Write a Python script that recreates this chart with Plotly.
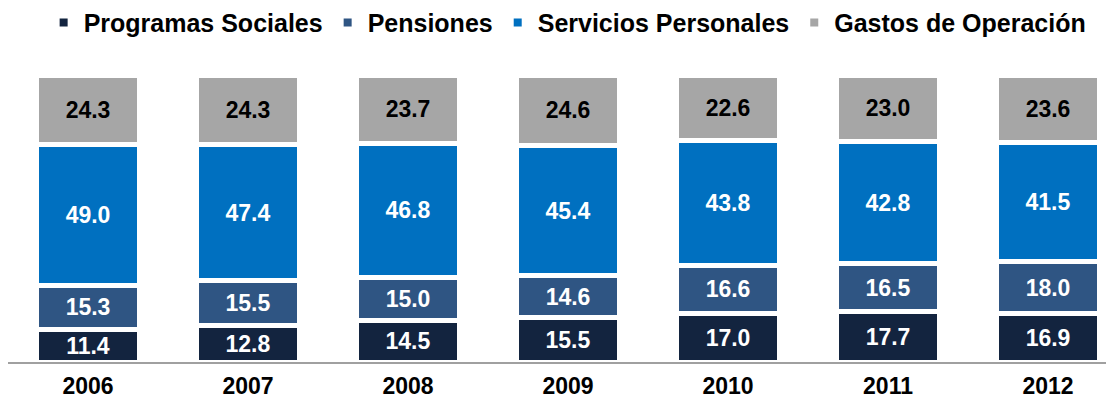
import plotly.graph_objects as go

years = ["2006", "2007", "2008", "2009", "2010", "2011", "2012"]
programas_sociales = [11.4, 12.8, 14.5, 15.5, 17.0, 17.7, 16.9]
pensiones = [15.3, 15.5, 15.0, 14.6, 16.6, 16.5, 18.0]
servicios_personales = [49.0, 47.4, 46.8, 45.4, 43.8, 42.8, 41.5]
gastos_operacion = [24.3, 24.3, 23.7, 24.6, 22.6, 23.0, 23.6]

series = [
    ("Programas Sociales", programas_sociales, "#13243F", "white"),
    ("Pensiones", pensiones, "#2F5583", "white"),
    ("Servicios Personales", servicios_personales, "#0070C0", "white"),
    ("Gastos de Operación", gastos_operacion, "#A6A6A6", "black"),
]

FONT = "Liberation Sans, Arial, sans-serif"

fig = go.Figure()
for name, vals, color, tcolor in series:
    fig.add_trace(go.Bar(
        x=years, y=vals, name=name, showlegend=False,
        marker=dict(color=color, line=dict(color="white", width=5)),
        width=0.644,
        text=[f"{v:.1f}" for v in vals],
        textposition="inside", insidetextanchor="middle",
        constraintext="none",
        textfont=dict(family=FONT, size=23, color=tcolor, weight="bold"),
        hoverinfo="skip",
    ))
for name, vals, color, tcolor in series:
    fig.add_trace(go.Scatter(
        x=[None], y=[None], mode="markers", name=name,
        marker=dict(symbol="square", size=8, color=color),
        showlegend=True,
    ))

# page body adds an 8px margin, so the figure is sized to fit the window
fig.update_layout(
    barmode="stack",
    bargap=0.356,
    width=1106, height=392,
    margin=dict(l=0, r=0, t=53, b=38, autoexpand=False),
    plot_bgcolor="white", paper_bgcolor="white",
    showlegend=True,
    legend=dict(
        orientation="h", traceorder="normal",
        x=0.506, xanchor="center", y=1.127, yanchor="middle",
        font=dict(family=FONT, size=25, color="black", weight="bold"),
        itemwidth=30, bgcolor="rgba(0,0,0,0)",
    ),
    xaxis=dict(
        range=[-0.5, 6.4125], showline=True, linecolor="#A0A0A0", linewidth=2,
        ticks="", showgrid=False, zeroline=False, automargin=False,
        ticklabelstandoff=2,
        tickfont=dict(family=FONT, size=23, color="black", weight="bold"),
    ),
    yaxis=dict(range=[0, 105], visible=False, showgrid=False, zeroline=False,
               automargin=False),
)

fig.write_html("out.html")
